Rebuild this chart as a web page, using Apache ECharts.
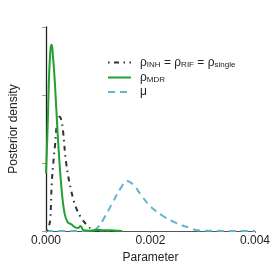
<!DOCTYPE html>
<html><head><meta charset="utf-8">
<script src="https://cdn.jsdelivr.net/npm/echarts@6/dist/echarts.min.js"></script>
<style>html,body{margin:0;padding:0;background:#fff}#c{width:273px;height:273px}</style>
</head><body><div id="c"></div>
<script>
// Parameter values (x) and posterior densities (y)
var singleX = [0.00002,0.00005,0.00008,0.00011,0.00014,0.00017,0.00022,0.000263,0.00030,0.000324,0.000386,0.00048,0.00057,0.00066,0.00078,0.0009,0.001,0.0012,0.0015];
var singleY = [0,60,160,700,1000,1240,1630,1680,1600,1485,1000,600,355,210,90,15,0,0,0];
var mdrX = [0,0.00003,0.00006,0.00009,0.00011,0.00013,0.00017,0.00023,0.000294,0.000355,0.000416,0.00048,0.00057,0.00062,0.00066,0.00072,0.0008,0.0009,0.001,0.0011,0.0013,0.00146];
var mdrY = [850,1500,2300,2700,2740,2600,2180,1340,650,260,130,100,50,45,75,10,5,10,20,12,8,0];
var muX = [0,0.0004,0.0008,0.00091,0.001,0.00109,0.00127,0.00143,0.00155,0.00167,0.00182,0.002,0.00226,0.0025,0.00275,0.0029,0.0032,0.0036,0.004];
var muY = [0,0,3,10,60,160,410,630,735,680,530,360,210,115,45,10,3,0,0];
var xTicks = [0, 0.002, 0.004];
var yTicks = [0, 1000, 2000, 3000];

function pairs(xs, ys){ return xs.map(function(x,i){ return [x, ys[i]]; }); }

var rich = {
  n:{fontSize:12, fontFamily:'Liberation Sans', color:'#222', lineHeight:14},
  s:{fontSize:8, fontFamily:'Liberation Sans', color:'#222', padding:[5,0,0,0], lineHeight:14}
};
function fmt(name){
  if(name==='single') return '{n|ρ}{s|INH}{n| = ρ}{s|RIF}{n| = ρ}{s|single}';
  if(name==='mdr') return '{n|ρ}{s|MDR}';
  return '{n|μ}';
}
function legendAt(name, top){
  return {data:[name], left:102, top:top, itemWidth:23, itemHeight:12,
    itemStyle:{opacity:0},
    formatter:fmt, textStyle:{rich:rich, padding:[0,0,0,4]}, selectedMode:false};
}

var chart = echarts.init(document.getElementById('c'), null, {renderer:'canvas'});
chart.setOption({
  animation:false,
  backgroundColor:'#fff',
  grid:{left:41, right:15, top:27, bottom:42},
  legend:[legendAt('single',51), legendAt('mdr',66), legendAt('mu',81)],
  xAxis:{type:'value', min:xTicks[0], max:xTicks[xTicks.length-1], interval:0.002,
    name:'Parameter', nameLocation:'middle', nameGap:19,
    nameTextStyle:{fontSize:12, fontFamily:'Liberation Sans', color:'#222'},
    axisLine:{lineStyle:{color:'#555', width:1}},
    axisTick:{show:true, length:2, lineStyle:{color:'#888'}},
    axisLabel:{fontSize:12, fontFamily:'Liberation Sans', color:'#222', margin:4,
      formatter:function(v){return v.toFixed(3);}},
    splitLine:{show:false}},
  yAxis:{type:'value', min:yTicks[0], max:yTicks[yTicks.length-1], interval:1000,
    name:'Posterior density', nameLocation:'middle', nameGap:26,
    nameTextStyle:{fontSize:12, fontFamily:'Liberation Sans', color:'#222'},
    axisLine:{show:true, lineStyle:{color:'#222', width:1.3}},
    axisTick:{show:true, length:4, lineStyle:{color:'#999'}},
    axisLabel:{show:false}, splitLine:{show:false}},
  series:[
    {name:'mu', type:'line', data:pairs(muX,muY), smooth:0.4, symbol:'none', z:2,
      lineStyle:{color:'#62b4cf', width:2, type:[7,5]}, itemStyle:{color:'#62b4cf'}},
    {name:'single', type:'line', data:pairs(singleX,singleY), smooth:0.4, symbol:'none', z:3,
      lineStyle:{color:'#333', width:2, type:[1.5,4.5,5,4.5]}, itemStyle:{color:'#333'}},
    {name:'mdr', type:'line', data:pairs(mdrX,mdrY), smooth:0.4, symbol:'none', z:4,
      lineStyle:{color:'#22a030', width:2}, itemStyle:{color:'#22a030'}}
  ]
});
</script></body></html>
